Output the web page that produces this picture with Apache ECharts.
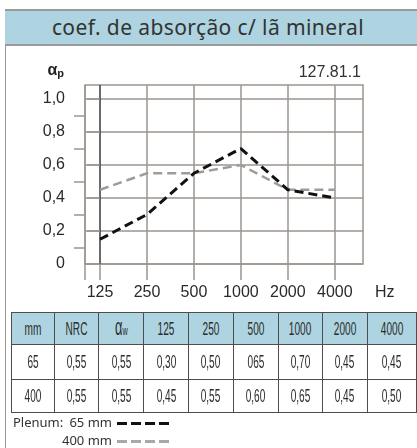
<!DOCTYPE html>
<html>
<head>
<meta charset="utf-8">
<script src="https://cdn.jsdelivr.net/npm/echarts@6/dist/echarts.min.js"></script>
<style>
  html, body { margin: 0; padding: 0; background: #fff; overflow: hidden; }
  #chart { position: absolute; left: 0; top: 0; width: 417px; height: 448px; }
  #leftLine { position: absolute; left: 5px; top: 10px; width: 1px; height: 438px; background: #9a9a9a; }
  #band {
    position: absolute; left: 5px; top: 9px; width: 412px; height: 33px;
    background: #add4e0; border-top: 2px solid #9a9a9a; border-bottom: 2px solid #9a9a9a;
    font-family: "Noto Sans", sans-serif; font-size: 21px; letter-spacing: 0.4px; color: #333;
    line-height: 33px; text-align: center;
  }
  #band span { position: relative; left: -3px; }
  #tbl {
    position: absolute; left: 11px; top: 312px; border-collapse: collapse; table-layout: fixed;
    font-family: "Liberation Sans", Arial, sans-serif; font-size: 18px; color: #2b2b2b;
  }
  #tbl td { border: 1px solid #4d4d4d; text-align: center; padding: 0; white-space: nowrap; line-height: 18px; }
  #tbl td span.t { display: inline-block; transform: scaleX(0.56); }
  #tbl tr.head td { background: #add4e0; height: 31px; }
  #tbl tr.r1 td { height: 34px; }
  #tbl tr.r2 td { height: 32px; }
  .alpha { font-size: 23px; }
  .sub { font-size: 13px; }
</style>
</head>
<body>
<div id="chart"></div>
<div id="leftLine"></div>
<div id="band"><span>coef. de absorção c/ lã mineral</span></div>
<table id="tbl"></table>
<script>
// frequências (Hz)
const freqs = ["125", "250", "500", "1000", "2000", "4000"];
// valores
const plenum65 = [0.15, 0.3, 0.55, 0.7, 0.45, 0.4];
const plenum400 = [0.45, 0.55, 0.55, 0.6, 0.45, 0.45];
const seriesNames = ["65 mm", "400 mm"];
const yTicks = [0, 0.2, 0.4, 0.6, 0.8, 1.0];
const yMinorTicks = [0.1, 0.3, 0.5, 0.7, 0.9];

// tabela
const tableHead = ["mm", "NRC", "αw", "125", "250", "500", "1000", "2000", "4000"];
const tableRow65 = ["65", "0,55", "0,55", "0,30", "0,50", "065", "0,70", "0,45", "0,45"];
const tableRow400 = ["400", "0,55", "0,55", "0,45", "0,55", "0,60", "0,65", "0,45", "0,50"];
const colWidths = [44, 45, 46, 46, 45, 46, 45, 45, 50];

function buildTable() {
  const tbl = document.getElementById("tbl");
  let html = "<colgroup>";
  colWidths.forEach(function (w) { html += '<col style="width:' + w + 'px">'; });
  html += "</colgroup>";
  const rows = [["head", tableHead], ["r1", tableRow65], ["r2", tableRow400]];
  rows.forEach(function (r) {
    html += '<tr class="' + r[0] + '">';
    r[1].forEach(function (c) {
      if (c === "αw") {
        html += '<td><span class="t"><span class="alpha">α</span><span class="sub">w</span></span></td>';
      } else {
        html += '<td><span class="t">' + c + "</span></td>";
      }
    });
    html += "</tr>";
  });
  tbl.innerHTML = html;
}
buildTable();

const gridColor = "#9d958f";
const labelFont = '"Liberation Sans", Arial, sans-serif';
const dashIcon = "path://M0,0h10v3h-10z M14,0h10v3h-10z M28,0h10v3h-10z M42,0h10v3h-10z";

const chart = echarts.init(document.getElementById("chart"));
chart.setOption({
  animation: false,
  backgroundColor: "#fff",
  grid: {
    left: 85, right: 54, top: 85, bottom: 184,
    show: true, borderColor: gridColor, borderWidth: 1.5
  },
  title: {
    text: "127.81.1", right: 51, top: 60,
    textStyle: { fontFamily: labelFont, fontSize: 16, fontWeight: "normal", color: "#333" }
  },
  graphic: [
    {
      type: "text", left: 13, top: 417,
      style: { text: "Plenum:", font: '13px "Noto Sans", sans-serif', fill: "#333" }
    }
  ],
  legend: {
    orient: "vertical", left: 62, top: 417, height: 40, itemGap: 5,
    align: "right", itemWidth: 52, itemHeight: 3, padding: 0,
    textStyle: { width: 50, fontFamily: '"Noto Sans", sans-serif', fontSize: 13, color: "#333" },
    data: [
      { name: seriesNames[0], icon: dashIcon },
      { name: seriesNames[1], icon: dashIcon }
    ]
  },
  xAxis: {
    type: "value",
    min: -0.32, max: 5.6,
    name: "Hz", nameLocation: "end", nameGap: 12,
    nameTextStyle: { fontFamily: labelFont, fontSize: 16, color: "#2a2a2a", verticalAlign: "top", padding: [21, 0, 0, 0] },
    axisLine: { show: false },
    axisTick: {
      show: true, length: 16, customValues: [-0.32, 0, 1, 2, 3, 4, 5],
      lineStyle: { color: gridColor, width: 1.5 }
    },
    splitLine: {
      show: true,
      lineStyle: { color: [gridColor, "#3a3a3a", gridColor, gridColor, gridColor, gridColor, gridColor], width: 1.5 }
    },
    axisLabel: {
      customValues: [0, 1, 2, 3, 4, 5], margin: 21,
      fontFamily: labelFont, fontSize: 16, color: "#2a2a2a",
      formatter: function (v) { return freqs[Math.round(v)]; }
    }
  },
  yAxis: [
    {
      type: "value", min: 0, max: 1.085,
      name: "{a|α}{p|p}", nameLocation: "end", nameGap: 6,
      nameTextStyle: {
        align: "right", padding: [0, 36, 0, 0],
        rich: {
          a: { fontFamily: labelFont, fontSize: 16, fontWeight: "bold", color: "#222" },
          p: { fontFamily: labelFont, fontSize: 11, fontWeight: "bold", color: "#222", verticalAlign: "bottom", padding: [6, 0, 0, 0] }
        }
      },
      axisLine: { show: false },
      axisTick: {
        show: true, length: 13, customValues: yTicks,
        lineStyle: { color: gridColor, width: 1.5 }
      },
      splitLine: { show: true, lineStyle: { color: gridColor, width: 1.5 } },
      axisLabel: {
        customValues: yTicks, margin: 20,
        fontFamily: labelFont, fontSize: 16, color: "#2a2a2a",
        formatter: function (v) {
          if (v === 0) return "0";
          return v.toFixed(1).replace(".", ",");
        }
      }
    },
    {
      type: "value", min: 0, max: 1.085, position: "left",
      axisLine: { show: false },
      axisTick: {
        show: true, length: 11, customValues: yMinorTicks,
        lineStyle: { color: gridColor, width: 1.5 }
      },
      splitLine: { show: false },
      axisLabel: { show: false }
    }
  ],
  series: [
    {
      name: seriesNames[0], type: "line", symbol: "none",
      itemStyle: { color: "#111" },
      lineStyle: { color: "#111", width: 3, type: [9, 5] },
      data: plenum65.map(function (v, i) { return [i, v]; }),
      z: 3
    },
    {
      name: seriesNames[1], type: "line", symbol: "none",
      itemStyle: { color: "#a3aaae" },
      lineStyle: { color: "#9c9c9c", width: 2.5, type: [9, 5] },
      data: plenum400.map(function (v, i) { return [i, v]; }),
      z: 2
    }
  ]
});
</script>
</body>
</html>
